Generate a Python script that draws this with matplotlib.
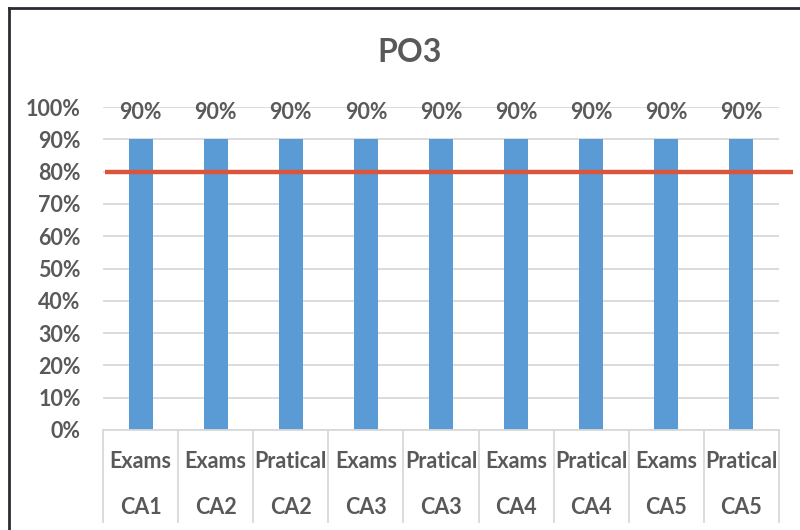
import matplotlib.pyplot as plt
from matplotlib.lines import Line2D
from matplotlib.ticker import PercentFormatter

# chart data
kinds = ["Exams", "Exams", "Pratical", "Exams", "Pratical", "Exams", "Pratical", "Exams", "Pratical"]
groups = ["CA1", "CA2", "CA2", "CA3", "CA3", "CA4", "CA4", "CA5", "CA5"]
scores = [0.90, 0.90, 0.90, 0.90, 0.90, 0.90, 0.90, 0.90, 0.90]
target = 0.80

TEXT = "#595959"
GRID = "#d9d9d9"
FONT = ["Lato", "DejaVu Sans"]
FS = 15.5

plt.rcParams["font.family"] = FONT
plt.rcParams["font.weight"] = "bold"


def main():
    fig = plt.figure(figsize=(8, 5.3), dpi=100)
    ax = fig.add_axes([103 / 800, 1 - 430 / 530, 676 / 800, 323 / 530])

    x = list(range(len(scores)))
    ax.bar(x, scores, width=0.32, color="#5b9bd5", zorder=2)
    for xi, v in zip(x, scores):
        ax.annotate(f"{v:.0%}", (xi, v), xytext=(0, 19.5), textcoords="offset points",
                    ha="center", va="center", fontsize=FS, color=TEXT, fontweight="bold")

    # target line reaches a bit past the plot area on the right
    ax.plot([-0.47, 8.69], [target, target], color="#d9553b", lw=3.2,
            solid_capstyle="butt", clip_on=False, zorder=3)

    ax.set_xlim(-0.5, len(scores) - 0.5)
    ax.set_ylim(0, 1)
    ax.set_yticks([i / 10 for i in range(11)])
    ax.yaxis.set_major_formatter(PercentFormatter(1.0, decimals=0))
    ax.tick_params(axis="y", length=0, pad=16, labelsize=FS, labelcolor=TEXT)
    ax.set_xticks([])
    ax.grid(axis="y", color=GRID, lw=1.3, zorder=0)
    for s in ["top", "right", "left"]:
        ax.spines[s].set_visible(False)
    ax.spines["bottom"].set_color(GRID)
    ax.spines["bottom"].set_linewidth(1.3)

    # two-level category axis
    trans = ax.get_xaxis_transform()
    for b in range(len(scores) + 1):
        ax.plot([b - 0.5, b - 0.5], [0, -92 / 323], color=GRID, lw=1.3,
                transform=trans, clip_on=False)
    for xi, k, g in zip(x, kinds, groups):
        ax.text(xi, -31 / 323, k, transform=trans, ha="center", va="center",
                fontsize=FS, color=TEXT, fontweight="bold")
        ax.text(xi, -77 / 323, g, transform=trans, ha="center", va="center",
                fontsize=FS, color=TEXT, fontweight="bold")

    fig.text(410 / 800, 1 - 52 / 530, "PO3", ha="center", va="center",
             fontsize=23, color=TEXT, fontweight="bold")

    # chart frame (left and top edges visible)
    fx, fy = 8.5 / 800, 1 - 7.5 / 530
    fig.add_artist(Line2D([fx, fx], [0, fy], color="#2b2b33", lw=2))
    fig.add_artist(Line2D([fx, 1], [fy, fy], color="#2b2b33", lw=2))

    fig.savefig("out.png", dpi=100)
    plt.close(fig)


if __name__ == "__main__":
    main()
